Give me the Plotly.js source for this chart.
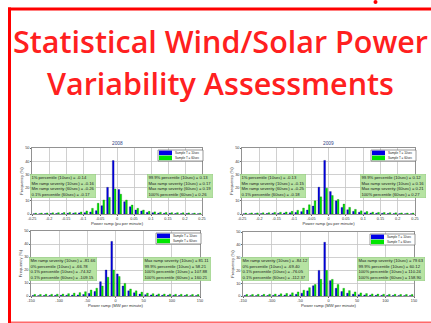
<!DOCTYPE html>
<html>
<head>
<meta charset="utf-8">
<script src="https://cdn.plot.ly/plotly-3.0.1.min.js"></script>
<style>
html,body{margin:0;padding:0;background:#fff;}
#chart{width:431px;height:323px;}
</style>
</head>
<body>
<div id="chart"></div>
<script>
// ---- data ----
var binsPu = [-0.2417,-0.2250,-0.2083,-0.1917,-0.1750,-0.1583,-0.1417,-0.1250,-0.1083,-0.0917,-0.0750,-0.0583,-0.0417,-0.0250,-0.0083,0.0083,0.0250,0.0417,0.0583,0.0750,0.0917,0.1083,0.1250,0.1417,0.1583,0.1750,0.1917,0.2083,0.2250,0.2417];
var binsMW = [-145,-135,-125,-115,-105,-95,-85,-75,-65,-55,-45,-35,-25,-15,-5,5,15,25,35,45,55,65,75,85,95,105,115,125,135,145];

var blue2008 = [0.2,0.2,0.3,0.3,0.4,0.4,0.5,0.6,0.8,1.0,1.5,2.5,6.3,20.2,40.5,18.5,9.3,5.5,3.0,2.3,1.2,0.9,0.7,0.5,0.5,0.4,0.3,0.3,0.2,0.2];
var green2008 = [0.6,0.7,0.8,0.9,1.0,1.1,1.2,1.0,1.5,2.3,4.3,8.1,10.6,12.6,19.0,15.0,10.6,6.8,4.3,3.0,2.0,1.6,1.3,1.2,1.0,1.0,0.9,0.8,0.7,0.6];
var blue2009 = [0.2,0.2,0.3,0.3,0.4,0.5,0.5,0.7,0.9,1.2,1.8,3.0,6.0,20.3,40.6,17.0,10.0,5.0,3.2,2.0,1.3,1.0,0.7,0.6,0.5,0.4,0.3,0.3,0.2,0.2];
var green2009 = [0.7,0.8,0.8,0.9,1.0,1.2,1.3,1.5,2.0,2.8,4.5,7.0,10.0,13.0,19.5,14.0,11.0,7.5,5.0,3.5,2.4,1.8,1.4,1.2,1.1,1.0,0.9,0.8,0.7,0.7];
var blueMW1 = [0.3,0.3,0.4,0.4,0.5,0.5,0.6,0.7,0.8,1.2,2.0,3.5,11.0,20.0,42.0,17.0,7.7,4.0,2.5,1.5,1.0,0.8,0.7,0.6,0.5,0.5,0.4,0.4,0.3,0.3];
var greenMW1 = [1.2,1.2,1.3,1.3,1.4,1.5,1.8,2.2,2.6,3.3,4.6,6.0,7.7,14.4,20.0,15.0,9.7,5.4,4.0,3.0,2.2,1.8,1.6,1.5,1.4,1.3,1.3,1.2,1.2,1.1];
var blueMW2 = [0.3,0.3,0.3,0.4,0.4,0.5,0.6,0.7,0.9,1.3,2.2,4.0,8.0,20.0,42.0,12.0,6.0,3.5,2.2,1.4,1.0,0.8,0.6,0.5,0.5,0.4,0.4,0.3,0.3,0.3];
var greenMW2 = [1.2,1.2,1.3,1.3,1.4,1.5,1.7,2.0,2.5,3.2,4.5,6.5,9.0,13.0,20.0,13.0,9.0,6.0,4.2,3.2,2.4,1.9,1.6,1.5,1.4,1.3,1.3,1.2,1.2,1.2];

var yearTitles = ['2008','2009'];
var legendLabels = ['Sample T = 10sec','Sample T = 60sec'];
var yTicks = ['0','10','20','30','40','50'];
var puTickVals = [-0.25,-0.2,-0.15,-0.1,-0.05,0,0.05,0.1,0.15,0.2,0.25];
var puTickText = ['-0.25','-0.2','-0.15','-0.1','-0.05','0','0.05','0.1','0.15','0.2','0.25'];
var mwTickVals = [-150,-100,-50,0,50,100,150];
var mwTickText = ['-150','-100','-50','0','50','100','150'];

var statsPuLeft1 = ['1% percentile (10sec) = -0.14','Min ramp severity (10sec) = -0.16','Min ramp severity (60sec) = -0.26','0.1% percentile (60sec) = -0.17'];
var statsPuRight1 = ['99.9% percentile (10sec) = 0.13','Max ramp severity (10sec) = 0.17','Max ramp severity (60sec) = 0.19','100% percentile (60sec) = 0.26'];
var statsPuLeft2 = ['1% percentile (10sec) = -0.13','Min ramp severity (10sec) = -0.15','Min ramp severity (60sec) = -0.25','0.1% percentile (60sec) = -0.18'];
var statsPuRight2 = ['99.9% percentile (10sec) = 0.12','Max ramp severity (10sec) = 0.16','Max ramp severity (60sec) = 0.21','100% percentile (60sec) = 0.27'];
var statsMWLeft1 = ['Min ramp severity (10sec) = -81.66','0% percentile (10sec) = -66.78','0.1% percentile (10sec) = -74.32','0.1% percentile (60sec) = -109.15'];
var statsMWRight1 = ['Max ramp severity (10sec) = 81.11','99.9% percentile (10sec) = 58.21','100% percentile (10sec) = 107.88','100% percentile (60sec) = 160.21'];
var statsMWLeft2 = ['Min ramp severity (10sec) = -84.12','0% percentile (10sec) = -69.40','0.1% percentile (10sec) = -76.05','0.1% percentile (60sec) = -112.37'];
var statsMWRight2 = ['Max ramp severity (10sec) = 79.63','99.9% percentile (10sec) = 60.12','100% percentile (10sec) = 110.24','100% percentile (60sec) = 158.90'];

var titleLines = ['Statistical Wind/Solar Power','Variability Assessments'];

// ---- build ----
var BLUE = '#0000e6', GREEN = '#00e600';
var panels = [
  {x: binsPu, b: blue2008, g: green2008, ax: '', title: yearTitles[0], tv: puTickVals, tt: puTickText, rng: [-0.25,0.25], xt: 'Power ramp (pu per minute)', L: statsPuLeft1, R: statsPuRight1},
  {x: binsPu, b: blue2009, g: green2009, ax: '2', title: yearTitles[1], tv: puTickVals, tt: puTickText, rng: [-0.25,0.25], xt: 'Power ramp (pu per minute)', L: statsPuLeft2, R: statsPuRight2},
  {x: binsMW, b: blueMW1, g: greenMW1, ax: '3', title: '', tv: mwTickVals, tt: mwTickText, rng: [-150,150], xt: 'Power ramp (MW per minute)', L: statsMWLeft1, R: statsMWRight1},
  {x: binsMW, b: blueMW2, g: greenMW2, ax: '4', title: '', tv: mwTickVals, tt: mwTickText, rng: [-150,150], xt: 'Power ramp (MW per minute)', L: statsMWLeft2, R: statsMWRight2}
];
var W = 431, H = 323;
var boxes = [ // plot rectangles in px: x0,x1,y0(top),y1(bottom)
  [32,202,148,214],[242,415,148,214],[31,200,231,296],[243,414,232,296]
];
var traces = [], layout = {
  width: W, height: H, margin: {l:0,r:0,t:0,b:0},
  paper_bgcolor: '#fff', plot_bgcolor: '#fff',
  showlegend: false, barmode: 'group', bargap: 0.32, bargroupgap: 0.1,
  font: {family: 'Arial, Liberation Sans, sans-serif', color: '#222'},
  shapes: [], annotations: []
};
panels.forEach(function(p, i){
  var bx = boxes[i];
  var xa = 'x' + p.ax, ya = 'y' + p.ax;
  traces.push({type:'bar', x:p.x, y:p.b, xaxis:xa, yaxis:ya, marker:{color:BLUE, line:{width:0.3, color:'#000066'}}, name: legendLabels[0]});
  traces.push({type:'bar', x:p.x, y:p.g, xaxis:xa, yaxis:ya, marker:{color:GREEN, line:{width:0.3, color:'#006600'}}, name: legendLabels[1]});
  var xk = 'xaxis' + p.ax, yk = 'yaxis' + p.ax;
  layout[xk] = {
    domain: [bx[0]/W, bx[1]/W], anchor: ya, range: p.rng,
    tickmode: 'array', tickvals: p.tv, ticktext: p.tt,
    tickfont: {size: 3.8, color: '#333'}, ticks: 'outside', ticklen: 1, tickcolor: '#666',
    showgrid: true, gridcolor: '#c4c4c4', gridwidth: 0.8, zeroline: false,
    showline: true, mirror: true, linecolor: '#777', linewidth: 0.8,
    title: {text: p.xt, font: {size: 4.2, color: '#333'}, standoff: 1}
  };
  layout[yk] = {
    domain: [1 - bx[3]/H, 1 - bx[2]/H], anchor: xa, range: [0,50],
    tickmode: 'array', tickvals: [0,10,20,30,40,50], ticktext: yTicks,
    tickfont: {size: 3.8, color: '#333'}, ticks: 'outside', ticklen: 1, tickcolor: '#666',
    showgrid: true, gridcolor: '#c4c4c4', gridwidth: 0.8, zeroline: false,
    showline: true, mirror: true, linecolor: '#777', linewidth: 0.8,
    title: {text: 'Frequency (%)', font: {size: 4.2, color: '#333'}, standoff: 1}
  };
  var xd = xa + ' domain', yd = ya + ' domain';
  var pw = bx[1]-bx[0], ph = bx[3]-bx[2];
  if (p.title) {
    layout.annotations.push({xref: xd, yref: yd, x: 0.5, y: 1.0, yanchor: 'bottom', xanchor: 'center', showarrow: false,
      text: p.title, font: {size: 4.8, color: '#334488'}});
  }
  // stats boxes
  layout.annotations.push({xref: xd, yref: yd, x: -2/pw, y: 0.42, xanchor: 'left', yanchor: 'middle', showarrow: false,
    text: p.L.join('<br>'), align: 'left', font: {size: 4.2, color: '#1a1a1a'}, bgcolor: '#b6e3a2', bordercolor: '#98cf84', borderwidth: 0.6, borderpad: 0.8});
  layout.annotations.push({xref: xd, yref: yd, x: 1 + 11/pw, y: 0.42, xanchor: 'right', yanchor: 'middle', showarrow: false,
    text: p.R.join('<br>'), align: 'left', font: {size: 4.2, color: '#1a1a1a'}, bgcolor: '#b6e3a2', bordercolor: '#98cf84', borderwidth: 0.6, borderpad: 0.8});
  // legend
  layout.shapes.push({type:'rect', xref: xd, yref: yd, x0: 1 - 44/pw, x1: 1 + 1/pw, y0: 1 - 13/ph, y1: 1 - 2/ph, fillcolor:'#fff', line:{color:'#555', width:0.6}});
  layout.shapes.push({type:'rect', xref: xd, yref: yd, x0: 1 - 43/pw, x1: 1 - 30/pw, y0: 1 - 7.2/ph, y1: 1 - 2.6/ph, fillcolor: BLUE, line:{width:0}});
  layout.shapes.push({type:'rect', xref: xd, yref: yd, x0: 1 - 43/pw, x1: 1 - 30/pw, y0: 1 - 12.2/ph, y1: 1 - 7.6/ph, fillcolor: GREEN, line:{width:0}});
  layout.annotations.push({xref: xd, yref: yd, x: 1 - 29/pw, y: 1 - 4.9/ph, xanchor:'left', yanchor:'middle', showarrow:false, text: legendLabels[0], font:{size:3, color:'#222'}});
  layout.annotations.push({xref: xd, yref: yd, x: 1 - 29/pw, y: 1 - 9.9/ph, xanchor:'left', yanchor:'middle', showarrow:false, text: legendLabels[1], font:{size:3, color:'#222'}});
});

// slide decorations: red frame
layout.shapes.push({type:'line', xref:'paper', yref:'paper', x0: 9.5/W, x1: 9.5/W, y0: 1 - 7.5/H, y1: -0.02, line:{color:'#ff0000', width:3}});
layout.shapes.push({type:'line', xref:'paper', yref:'paper', x0: 8/W, x1: 1.02, y0: 1 - 9/H, y1: 1 - 9/H, line:{color:'#ff0000', width:3}});
layout.shapes.push({type:'line', xref:'paper', yref:'paper', x0: 11/W, x1: 1.02, y0: 1 - 322.3/H, y1: 1 - 322.3/H, line:{color:'#ff6a6a', width:1.5}});
layout.shapes.push({type:'circle', xref:'paper', yref:'paper', x0: 373.5/W, x1: 377.5/W, y0: 1 - 4/H, y1: 1 + 0/H, fillcolor:'#ff0000', line:{width:0}});

// slide title
var TF = {family:'Open Sans, sans-serif', size:30.5, weight:600, color:'#ff2020'};
layout.annotations.push({xref:'paper', yref:'paper', x: 220/W, y: 1 - 41/H, xanchor:'center', yanchor:'middle', showarrow:false,
  text: titleLines[0], font: TF});
layout.annotations.push({xref:'paper', yref:'paper', x: 220/W, y: 1 - 83/H, xanchor:'center', yanchor:'middle', showarrow:false,
  text: titleLines[1], font: TF});

Plotly.newPlot('chart', traces, layout, {staticPlot: true, displayModeBar: false});
</script>
</body>
</html>
